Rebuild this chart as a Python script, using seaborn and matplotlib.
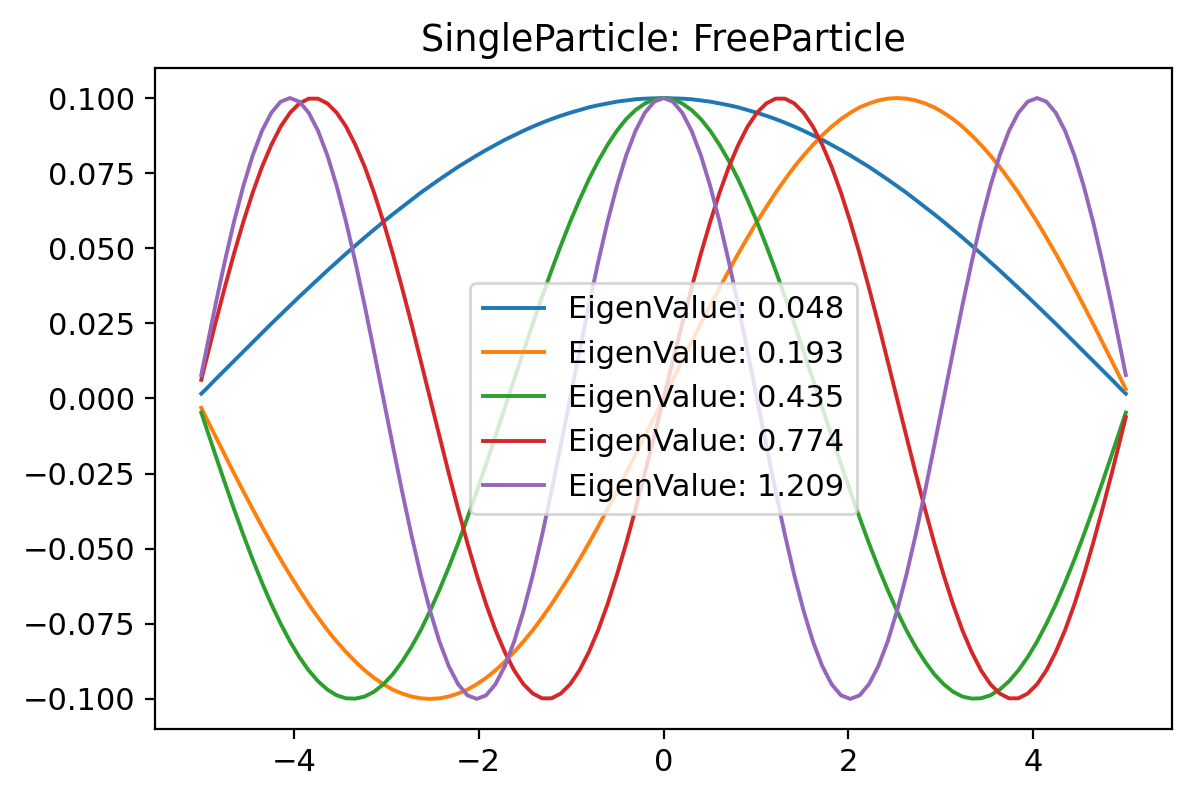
import matplotlib
matplotlib.use("Agg")
import matplotlib.pyplot as plt
import seaborn as sns
import pandas as pd

# x positions (box of width 10.1, sampled)
x = [-5.0, -4.949, -4.848, -4.747, -4.646, -4.545, -4.444, -4.343, -4.242, -4.141,
     -4.040, -3.939, -3.838, -3.737, -3.636, -3.535, -3.434, -3.333, -3.232, -3.131,
     -3.030, -2.929, -2.828, -2.727, -2.626, -2.525, -2.424, -2.323, -2.222, -2.121,
     -2.020, -1.919, -1.818, -1.717, -1.616, -1.515, -1.414, -1.313, -1.212, -1.111,
     -1.010, -0.909, -0.808, -0.707, -0.606, -0.505, -0.404, -0.303, -0.202, -0.101,
     0.0,
     0.101, 0.202, 0.303, 0.404, 0.505, 0.606, 0.707, 0.808, 0.909, 1.010,
     1.111, 1.212, 1.313, 1.414, 1.515, 1.616, 1.717, 1.818, 1.919, 2.020,
     2.121, 2.222, 2.323, 2.424, 2.525, 2.626, 2.727, 2.828, 2.929, 3.030,
     3.131, 3.232, 3.333, 3.434, 3.535, 3.636, 3.737, 3.838, 3.939, 4.040,
     4.141, 4.242, 4.343, 4.444, 4.545, 4.646, 4.747, 4.848, 4.949, 5.0]

psi1 = [0.0016,
        0.0031, 0.0063, 0.0094, 0.0125, 0.0156, 0.0187, 0.0218, 0.0249, 0.0279, 0.0309,
        0.0339, 0.0368, 0.0397, 0.0426, 0.0454, 0.0482, 0.0509, 0.0536, 0.0562, 0.0588,
        0.0613, 0.0637, 0.0661, 0.0685, 0.0707, 0.0729, 0.0750, 0.0771, 0.0790, 0.0809,
        0.0827, 0.0844, 0.0861, 0.0876, 0.0891, 0.0905, 0.0918, 0.0930, 0.0941, 0.0951,
        0.0960, 0.0969, 0.0976, 0.0982, 0.0988, 0.0992, 0.0996, 0.0998, 0.0999,
        0.1000,
        0.0999, 0.0998, 0.0996, 0.0992, 0.0988, 0.0982, 0.0976, 0.0969, 0.0960,
        0.0951, 0.0941, 0.0930, 0.0918, 0.0905, 0.0891, 0.0876, 0.0861, 0.0844, 0.0827,
        0.0809, 0.0790, 0.0771, 0.0750, 0.0729, 0.0707, 0.0685, 0.0661, 0.0637, 0.0613,
        0.0588, 0.0562, 0.0536, 0.0509, 0.0482, 0.0454, 0.0426, 0.0397, 0.0368, 0.0339,
        0.0309, 0.0279, 0.0249, 0.0218, 0.0187, 0.0156, 0.0125, 0.0094, 0.0063, 0.0031,
        0.0016]

psi2 = [-0.0031,
        -0.0063, -0.0125, -0.0187, -0.0249, -0.0309, -0.0368, -0.0426, -0.0482, -0.0536, -0.0588,
        -0.0637, -0.0685, -0.0729, -0.0771, -0.0809, -0.0844, -0.0876, -0.0905, -0.0930, -0.0951,
        -0.0969, -0.0982, -0.0992, -0.0998, -0.1000, -0.0998, -0.0992, -0.0982, -0.0969, -0.0951,
        -0.0930, -0.0905, -0.0876, -0.0844, -0.0809, -0.0771, -0.0729, -0.0685, -0.0637, -0.0588,
        -0.0536, -0.0482, -0.0426, -0.0368, -0.0309, -0.0249, -0.0187, -0.0125, -0.0063,
        0.0000,
        0.0063, 0.0125, 0.0187, 0.0249, 0.0309, 0.0368, 0.0426, 0.0482, 0.0536,
        0.0588, 0.0637, 0.0685, 0.0729, 0.0771, 0.0809, 0.0844, 0.0876, 0.0905, 0.0930,
        0.0951, 0.0969, 0.0982, 0.0992, 0.0998, 0.1000, 0.0998, 0.0992, 0.0982, 0.0969,
        0.0951, 0.0930, 0.0905, 0.0876, 0.0844, 0.0809, 0.0771, 0.0729, 0.0685, 0.0637,
        0.0588, 0.0536, 0.0482, 0.0426, 0.0368, 0.0309, 0.0249, 0.0187, 0.0125, 0.0063,
        0.0031]

psi3 = [-0.0047,
        -0.0094, -0.0187, -0.0279, -0.0368, -0.0454, -0.0536, -0.0613, -0.0685, -0.0750, -0.0809,
        -0.0861, -0.0905, -0.0941, -0.0969, -0.0988, -0.0998, -0.0999, -0.0992, -0.0976, -0.0951,
        -0.0918, -0.0876, -0.0827, -0.0771, -0.0707, -0.0637, -0.0562, -0.0482, -0.0397, -0.0309,
        -0.0218, -0.0125, -0.0031, 0.0063, 0.0156, 0.0249, 0.0339, 0.0426, 0.0509, 0.0588,
        0.0661, 0.0729, 0.0790, 0.0844, 0.0891, 0.0930, 0.0960, 0.0982, 0.0996,
        0.1000,
        0.0996, 0.0982, 0.0960, 0.0930, 0.0891, 0.0844, 0.0790, 0.0729, 0.0661,
        0.0588, 0.0509, 0.0426, 0.0339, 0.0249, 0.0156, 0.0063, -0.0031, -0.0125, -0.0218,
        -0.0309, -0.0397, -0.0482, -0.0562, -0.0637, -0.0707, -0.0771, -0.0827, -0.0876, -0.0918,
        -0.0951, -0.0976, -0.0992, -0.0999, -0.0998, -0.0988, -0.0969, -0.0941, -0.0905, -0.0861,
        -0.0809, -0.0750, -0.0685, -0.0613, -0.0536, -0.0454, -0.0368, -0.0279, -0.0187, -0.0094,
        -0.0047]

psi4 = [0.0062,
        0.0125, 0.0249, 0.0368, 0.0482, 0.0588, 0.0685, 0.0771, 0.0844, 0.0905, 0.0951,
        0.0982, 0.0998, 0.0998, 0.0982, 0.0951, 0.0905, 0.0844, 0.0771, 0.0685, 0.0588,
        0.0482, 0.0368, 0.0249, 0.0125, 0.0000, -0.0125, -0.0249, -0.0368, -0.0482, -0.0588,
        -0.0685, -0.0771, -0.0844, -0.0905, -0.0951, -0.0982, -0.0998, -0.0998, -0.0982, -0.0951,
        -0.0905, -0.0844, -0.0771, -0.0685, -0.0588, -0.0482, -0.0368, -0.0249, -0.0125,
        0.0000,
        0.0125, 0.0249, 0.0368, 0.0482, 0.0588, 0.0685, 0.0771, 0.0844, 0.0905,
        0.0951, 0.0982, 0.0998, 0.0998, 0.0982, 0.0951, 0.0905, 0.0844, 0.0771, 0.0685,
        0.0588, 0.0482, 0.0368, 0.0249, 0.0125, 0.0000, -0.0125, -0.0249, -0.0368, -0.0482,
        -0.0588, -0.0685, -0.0771, -0.0844, -0.0905, -0.0951, -0.0982, -0.0998, -0.0998, -0.0982,
        -0.0951, -0.0905, -0.0844, -0.0771, -0.0685, -0.0588, -0.0482, -0.0368, -0.0249, -0.0125,
        -0.0062]

psi5 = [0.0078,
        0.0156, 0.0309, 0.0454, 0.0588, 0.0707, 0.0809, 0.0891, 0.0951, 0.0988, 0.1000,
        0.0988, 0.0951, 0.0891, 0.0809, 0.0707, 0.0588, 0.0454, 0.0309, 0.0156, 0.0000,
        -0.0156, -0.0309, -0.0454, -0.0588, -0.0707, -0.0809, -0.0891, -0.0951, -0.0988, -0.1000,
        -0.0988, -0.0951, -0.0891, -0.0809, -0.0707, -0.0588, -0.0454, -0.0309, -0.0156, 0.0000,
        0.0156, 0.0309, 0.0454, 0.0588, 0.0707, 0.0809, 0.0891, 0.0951, 0.0988,
        0.1000,
        0.0988, 0.0951, 0.0891, 0.0809, 0.0707, 0.0588, 0.0454, 0.0309, 0.0156,
        0.0000, -0.0156, -0.0309, -0.0454, -0.0588, -0.0707, -0.0809, -0.0891, -0.0951, -0.0988,
        -0.1000, -0.0988, -0.0951, -0.0891, -0.0809, -0.0707, -0.0588, -0.0454, -0.0309, -0.0156,
        0.0000, 0.0156, 0.0309, 0.0454, 0.0588, 0.0707, 0.0809, 0.0891, 0.0951, 0.0988,
        0.1000, 0.0988, 0.0951, 0.0891, 0.0809, 0.0707, 0.0588, 0.0454, 0.0309, 0.0156,
        0.0078]

eigenvalues = [0.048, 0.193, 0.435, 0.774, 1.209]
series = [psi1, psi2, psi3, psi4, psi5]
colors = ["#1f77b4", "#ff7f0e", "#2ca02c", "#d62728", "#9467bd"]
title = "SingleParticle: FreeParticle"
xticks = [-4, -2, 0, 2, 4]
yticks = [-0.100, -0.075, -0.050, -0.025, 0.000, 0.025, 0.050, 0.075, 0.100]

plt.rcParams['font.family'] = ['DejaVu Sans']
fig = plt.figure(figsize=(6, 4), dpi=200)
ax = fig.add_axes([0.1292, 0.0888, 0.8475, 0.8262])

for ev, ys, c in zip(eigenvalues, series, colors):
    df = pd.DataFrame({"x": x, "y": ys})
    sns.lineplot(data=df, x="x", y="y", ax=ax, color=c, linewidth=1.4,
                 label=f"EigenValue: {ev:.3f}", sort=False)

ax.set_xlabel("")
ax.set_ylabel("")
ax.set_title(title, fontsize=13.2)
ax.legend(loc="center", fontsize=11)
ax.set_xticks(xticks)
ax.set_yticks(yticks)
ax.set_xticklabels([f"{t}".replace("-", "\u2212") for t in xticks])
ax.set_yticklabels([f"{t:.3f}".replace("-", "\u2212") for t in yticks])
ax.tick_params(labelsize=11)

fig.savefig("out.png", dpi=200)
